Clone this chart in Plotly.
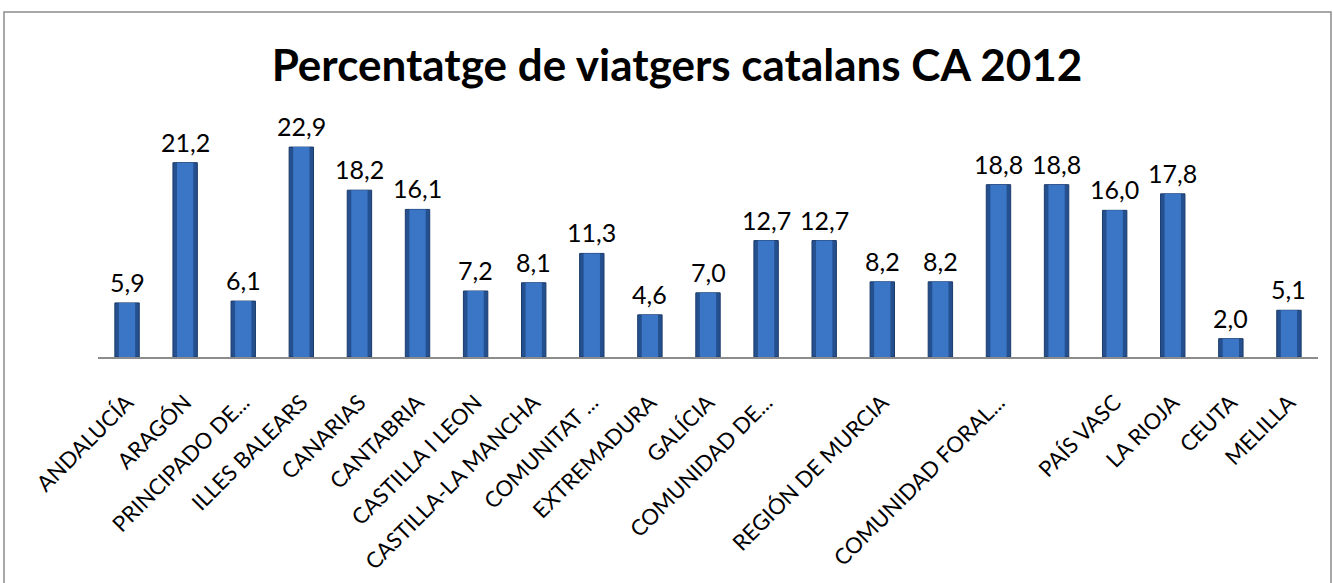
import plotly.graph_objects as go

categories = ["ANDALUCÍA", "ARAGÓN", "PRINCIPADO DE...", "ILLES BALEARS", "CANARIAS",
              "CANTABRIA", "CASTILLA I LEON", "CASTILLA-LA MANCHA", "COMUNITAT ...",
              "EXTREMADURA", "GALÍCIA", "COMUNIDAD DE...", "", "REGIÓN DE MURCIA", "",
              "COMUNIDAD FORAL...", "", "PAÍS VASC", "LA RIOJA", "CEUTA", "MELILLA"]
values = [5.9, 21.2, 6.1, 22.9, 18.2, 16.1, 7.2, 8.1, 11.3, 4.6, 7.0, 12.7, 12.7,
          8.2, 8.2, 18.8, 18.8, 16.0, 17.8, 2.0, 5.1]
title_text = "Percentatge de viatgers catalans CA 2012"

positions = list(range(len(categories)))

fig = go.Figure()
fig.add_trace(go.Bar(
    x=positions, y=values,
    marker=dict(color="#25508F", line=dict(color="#1A3A6A", width=1)),
    width=0.42, hoverinfo="skip",
))
fig.add_trace(go.Bar(
    x=positions, y=values,
    marker=dict(color="#3B76C6", line=dict(width=0)),
    width=0.28, hoverinfo="skip",
))

annotations = [dict(x=p, y=v, xref="x", yref="y", text=f"{v:.1f}".replace(".", ","),
                    showarrow=False, yanchor="bottom", yshift=4,
                    font=dict(family="Lato", size=25, color="#000000"))
               for p, v in zip(positions, values)]

fig.update_layout(
    width=1333, height=583,
    margin=dict(l=98, r=15, t=137, b=226, autoexpand=False),
    paper_bgcolor="white", plot_bgcolor="white",
    barmode="overlay",
    showlegend=False,
    annotations=annotations,
    title=dict(text="<b>" + title_text + "</b>", x=677 / 1333, xref="container", xanchor="center",
               y=1 - 66 / 583, yref="container", yanchor="middle",
               font=dict(family="Lato", size=44, color="#000000")),
    xaxis=dict(tickmode="array", tickvals=positions, ticktext=categories,
               range=[-0.5, len(categories) - 0.5], tickangle=-45,
               tickfont=dict(family="Lato", size=22, color="#000000"),
               ticklabelstandoff=22,
               showline=True, linecolor="#8C8C8C", linewidth=2, ticks="",
               showgrid=False, zeroline=False, fixedrange=True, automargin=False),
    yaxis=dict(range=[0, 24], visible=False, showgrid=False, zeroline=False,
               automargin=False, fixedrange=True),
    shapes=[dict(type="rect", xref="paper", yref="paper",
                 x0=(4 - 98) / 1220, x1=(1331 - 98) / 1220,
                 y0=-1.2, y1=(357 - 12) / 220,
                 line=dict(color="#8C8C8C", width=1.5), fillcolor="rgba(0,0,0,0)",
                 layer="below")],
)

fig.write_html("out.html", config={"displayModeBar": False},
               post_script="document.body.style.margin='0px';")
